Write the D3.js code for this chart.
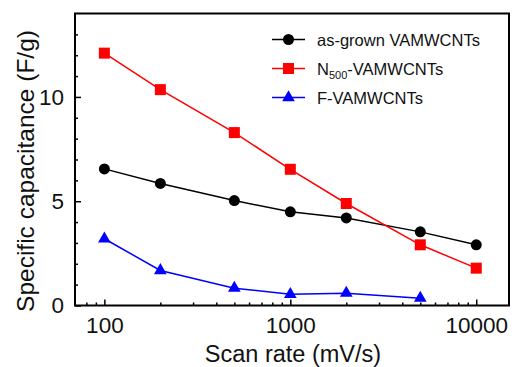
<!DOCTYPE html>
<html>
<head>
<meta charset="utf-8">
<script src="https://cdn.jsdelivr.net/npm/d3@7"></script>
<style>
  body { margin: 0; background: #fff; }
  svg { font-family: "Liberation Sans", Arial, sans-serif; }
</style>
</head>
<body>
<svg id="chart" width="512" height="367"></svg>
<script>
// Scan rates and capacitance values
const scanRates = [100, 200, 500, 1000, 2000, 5000, 10000];
const asGrown = [6.55, 5.85, 5.03, 4.49, 4.2, 3.53, 2.91];
const n500 = [12.1, 10.35, 8.29, 6.53, 4.89, 2.91, 1.79];
const fRates = [100, 200, 500, 1000, 2000, 5000];
const fVam = [3.2, 1.68, 0.83, 0.54, 0.59, 0.35];

const xMajor = [100, 1000, 10000];
const xMinor = [80, 90, 200, 300, 400, 500, 600, 700, 800, 900,
                2000, 3000, 4000, 5000, 6000, 7000, 8000, 9000];
const yMajor = [0, 5, 10];
const yMinor = [1, 2, 3, 4, 6, 7, 8, 9, 11, 12, 13];

const series = [
    { name: 'as-grown VAMWCNTs', x: scanRates, y: asGrown, color: '#000000', shape: 'circle' },
    { name: 'N500-VAMWCNTs', x: scanRates, y: n500, color: '#ff0000', shape: 'square' },
    { name: 'F-VAMWCNTs', x: fRates, y: fVam, color: '#0000ff', shape: 'triangle' }
];

const margin = { left: 75, top: 13.5, right: 3, bottom: 61.5 };
const width = 512, height = 367;

const svg = d3.select('#chart');

const xScale = d3.scaleLog()
    .domain([69.5, 15000])
    .range([margin.left, width - margin.right]);

const yScale = d3.scaleLinear()
    .domain([0, 14])
    .range([height - margin.bottom, margin.top]);

// minor ticks (no labels)
svg.append('g')
    .attr('transform', `translate(0,${height - margin.bottom})`)
    .call(d3.axisBottom(xScale).tickValues(xMinor).tickSize(-3).tickFormat(''))
    .call(g => g.select('.domain').remove());

svg.append('g')
    .attr('transform', `translate(${margin.left},0)`)
    .call(d3.axisLeft(yScale).tickValues(yMinor).tickSize(-3).tickFormat(''))
    .call(g => g.select('.domain').remove());

// major ticks
svg.append('g')
    .attr('transform', `translate(0,${height - margin.bottom})`)
    .call(d3.axisBottom(xScale).tickValues(xMajor).tickSize(-6).tickPadding(12)
        .tickFormat(d3.format('d')))
    .call(g => g.select('.domain').remove());

svg.append('g')
    .attr('transform', `translate(${margin.left},0)`)
    .call(d3.axisLeft(yScale).tickValues(yMajor).tickSize(-6).tickPadding(11))
    .call(g => g.select('.domain').remove());

svg.selectAll('.tick line').attr('stroke', '#000').attr('stroke-width', 1.5);
svg.selectAll('.tick text')
    .attr('font-size', 22.5)
    .attr('font-family', '"Liberation Sans", Arial, sans-serif')
    .attr('fill', '#111');

// frame
svg.append('rect')
    .attr('x', margin.left)
    .attr('y', margin.top)
    .attr('width', width - margin.left - margin.right)
    .attr('height', height - margin.top - margin.bottom)
    .attr('fill', 'none')
    .attr('stroke', '#000')
    .attr('stroke-width', 2);

// axis titles
svg.append('text')
    .attr('x', 293)
    .attr('y', 362)
    .attr('text-anchor', 'middle')
    .attr('font-size', 23.5)
    .attr('fill', '#111')
    .text('Scan rate (mV/s)');

svg.append('text')
    .attr('transform', 'translate(33.5,171) rotate(-90)')
    .attr('text-anchor', 'middle')
    .attr('font-size', 24.5)
    .attr('fill', '#111')
    .text('Specific capacitance (F/g)');

// marker drawing helper
function drawMarker(g, shape, color) {
    if (shape === 'circle') {
        g.append('circle').attr('r', 5.5).attr('fill', color);
    } else if (shape === 'square') {
        g.append('rect').attr('x', -5.5).attr('y', -5.5).attr('width', 11).attr('height', 11).attr('fill', color);
    } else {
        g.append('path').attr('d', d3.symbol(d3.symbolTriangle, 70)()).attr('fill', color);
    }
}

const line = d3.line()
    .x(d => xScale(d[0]))
    .y(d => yScale(d[1]));

series.forEach(s => {
    const pts = s.x.map((x, i) => [x, s.y[i]]);
    svg.append('path')
        .datum(pts)
        .attr('d', line)
        .attr('fill', 'none')
        .attr('stroke', s.color)
        .attr('stroke-width', 1.5);

    svg.append('g').selectAll('g')
        .data(pts)
        .join('g')
        .attr('transform', d => `translate(${xScale(d[0])},${yScale(d[1])})`)
        .each(function () { drawMarker(d3.select(this), s.shape, s.color); });
});

// legend
const legend = svg.append('g');
const legendY = [39.5, 68.5, 97.5];

series.forEach((s, i) => {
    const row = legend.append('g').attr('transform', `translate(0,${legendY[i]})`);
    row.append('line')
        .attr('x1', 272).attr('x2', 305)
        .attr('stroke', s.color).attr('stroke-width', 1.5);
    drawMarker(row.append('g').attr('transform', 'translate(288.5,0)'), s.shape, s.color);

    const txt = row.append('text')
        .attr('x', 317)
        .attr('y', 6)
        .attr('font-size', 16.5)
        .attr('fill', '#111');
    if (s.shape === 'square') {
        txt.append('tspan').text('N');
        txt.append('tspan').attr('font-size', 11).attr('dy', 4).text('500');
        txt.append('tspan').attr('dy', -4).text('-VAMWCNTs');
    } else {
        txt.text(s.name);
    }
});
</script>
</body>
</html>
